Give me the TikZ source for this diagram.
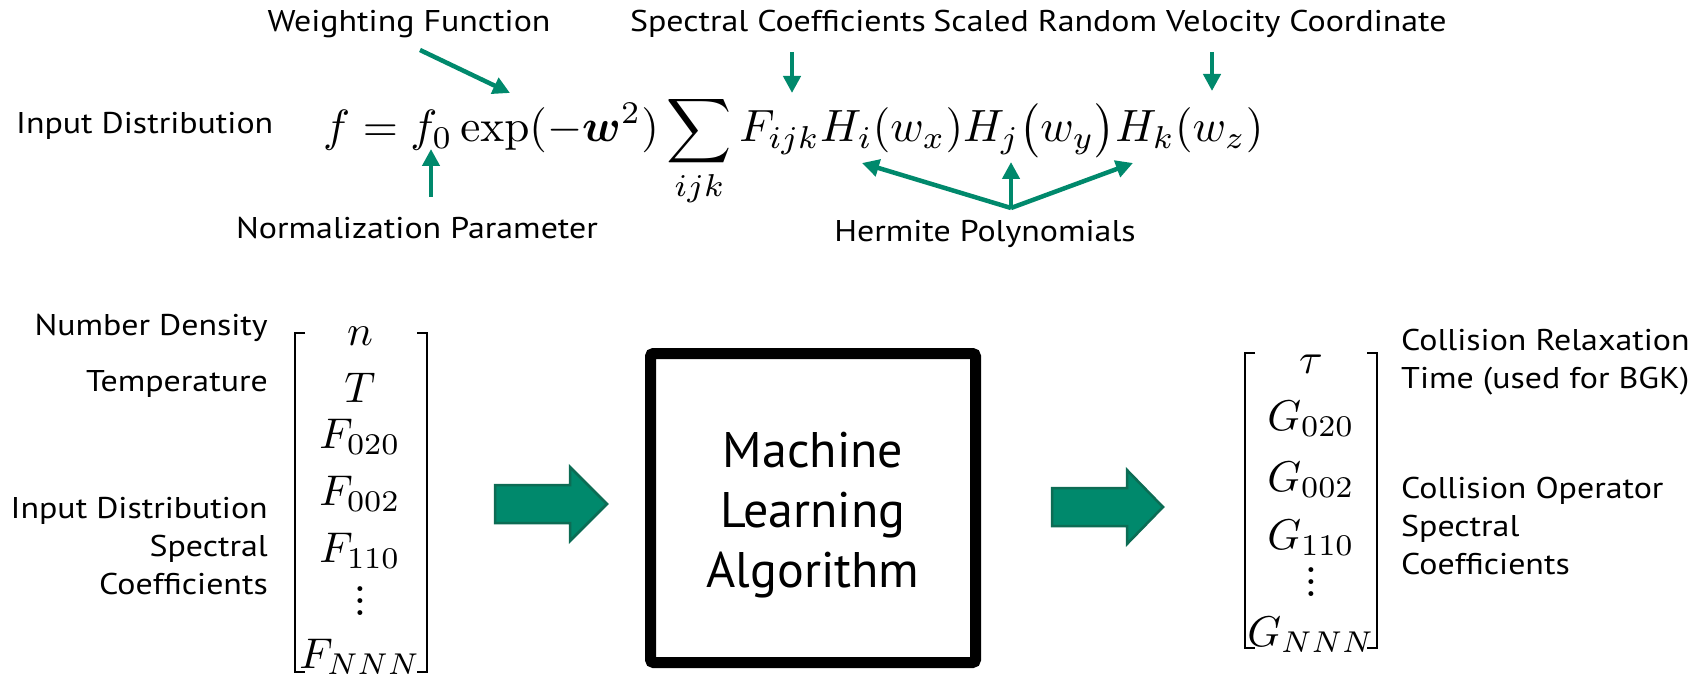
\documentclass[tikz,border=0pt]{standalone}
\usepackage[no-math]{fontspec}
\usepackage{amsmath,amssymb,bm}
\usepackage{graphicx}
\setmainfont{PT Sans}
\newfontfamily\labelfont{PT Sans}[FakeStretch=1.13]
\usetikzlibrary{arrows.meta}
\definecolor{mlteal}{RGB}{0,137,108}
\definecolor{mltealdark}{RGB}{12,108,84}
\newcommand{\vecentry}[1]{\scalebox{4.3}{$#1$}}
% compact vertical ellipsis for the vector columns
\newcommand{\colvdots}{\scalebox{4.6}{\vbox{\baselineskip=2.7pt\lineskiplimit=-5pt
  \hbox{$.$}\hbox{$.$}\hbox{$.$}}}}
\tikzset{
  lbl/.style={inner sep=0pt, font=\labelfont\fontsize{30}{38}\selectfont},
  pointer/.style={draw=mlteal, line width=4.5pt,
    -{Triangle[length=17pt,width=17pt]}},
  bigarrow/.style={fill=mlteal, draw=mltealdark, line width=2.5pt, line join=miter},
  bracket/.style={draw=black, line width=2.6pt},
  entry/.style={inner sep=0pt, anchor=base},
  mlbox/.style={draw=black, line width=11pt, rounded corners=3pt},
}
\begin{document}
\begin{tikzpicture}[x=1pt, y=-1pt]
\useasboundingbox (0,0) rectangle (1693,684);

% ---------- defining equation ----------
\node[inner sep=0pt, anchor=base west] (eq) at (323,142)
  {\resizebox{940pt}{!}{$\displaystyle f = f_0\exp(-\bm{w}^2)\sum_{ijk}F_{ijk}H_i(w_x)H_j\bigl(w_y\bigr)H_k(w_z)$}};

\node[lbl, anchor=west] (indist) at (16,126) {Input Distribution};
\node[lbl] (weight) at (409,24) {Weighting Function};
\node[lbl] (speccoef) at (778,24) {Spectral Coefficients};
\node[lbl] (velo) at (1190,24) {Scaled Random Velocity Coordinate};
\node[lbl] (norm) at (417,228) {Normalization Parameter};
\node[lbl] (herm) at (985,234) {Hermite Polynomials};

% pointer ends
\coordinate (wTail) at (420,50);  \coordinate (wTip) at (510,93);
\coordinate (sTail) at (792,52);  \coordinate (sTip) at (792,93);
\coordinate (vTail) at (1212,52); \coordinate (vTip) at (1212,91);
\coordinate (nTail) at (431,197); \coordinate (nTip) at (431,149);
\coordinate (hJoin) at (1011,208);
\coordinate (hA) at (862,163); \coordinate (hB) at (1011,162); \coordinate (hC) at (1133,163);

\draw[pointer] (wTail) -- (wTip);
\draw[pointer] (sTail) -- (sTip);
\draw[pointer] (vTail) -- (vTip);
\draw[pointer] (nTail) -- (nTip);
\draw[pointer] (hJoin) -- (hA);
\draw[pointer] (hJoin) -- (hB);
\draw[pointer] (hJoin) -- (hC);

% ---------- input vector ----------
\draw[bracket] (305,333) -- (295,333) -- (295,672) -- (305,672);
\draw[bracket] (417,333) -- (427,333) -- (427,672) -- (417,672);
\node[entry] (vn) at (360,345) {\vecentry{n}};
\node[entry] (vT) at (360,402) {\vecentry{T}};
\node[entry] (vF1) at (360,448) {\vecentry{F_{020}}};
\node[entry] (vF2) at (360,505) {\vecentry{F_{002}}};
\node[entry] (vF3) at (360,562) {\vecentry{F_{110}}};
\node[entry, anchor=center] (vdots) at (360,601) {\colvdots};
\node[entry] (vFN) at (360,668) {\vecentry{F_{NNN}}};

\node[lbl, anchor=east] (ndens) at (268,328) {Number Density};
\node[lbl, anchor=east] (temp) at (268,384) {Temperature};
\node[lbl, anchor=east, align=right] (inspec) at (268,546)
  {Input Distribution\\Spectral\\Coefficients};

% ---------- arrows and learning box ----------
\draw[bigarrow] (495,485) -- (570,485) -- (570,467) -- (607,504)
  -- (570,541) -- (570,523) -- (495,523) -- cycle;

\draw[mlbox] (650.5,353.5) rectangle (975.5,662.5);
\node[inner sep=0pt, align=center, font=\fontsize{50}{60}\selectfont] (ml) at (813,515)
  {Machine\\Learning\\Algorithm};

\draw[bigarrow] (1052,488) -- (1127,488) -- (1127,470) -- (1163,507)
  -- (1127,544) -- (1127,526) -- (1052,526) -- cycle;

% ---------- output vector ----------
\draw[bracket] (1255,353) -- (1245,353) -- (1245,648) -- (1255,648);
\draw[bracket] (1367,353) -- (1377,353) -- (1377,648) -- (1367,648);
\node[entry] (gt) at (1311,373) {\vecentry{\tau}};
\node[entry] (gG1) at (1311,430) {\vecentry{G_{020}}};
\node[entry] (gG2) at (1311,491) {\vecentry{G_{002}}};
\node[entry] (gG3) at (1311,549) {\vecentry{G_{110}}};
\node[entry, anchor=center] (gdots) at (1311,582) {\colvdots};
\node[entry] (gGN) at (1311,646) {\vecentry{G_{NNN}}};

\node[lbl, anchor=west, align=left] (relax) at (1401,362)
  {Collision Relaxation\\Time (used for BGK)};
\node[lbl, anchor=west, align=left] (colop) at (1401,526)
  {Collision Operator\\Spectral\\Coefficients};
\end{tikzpicture}
\end{document}
